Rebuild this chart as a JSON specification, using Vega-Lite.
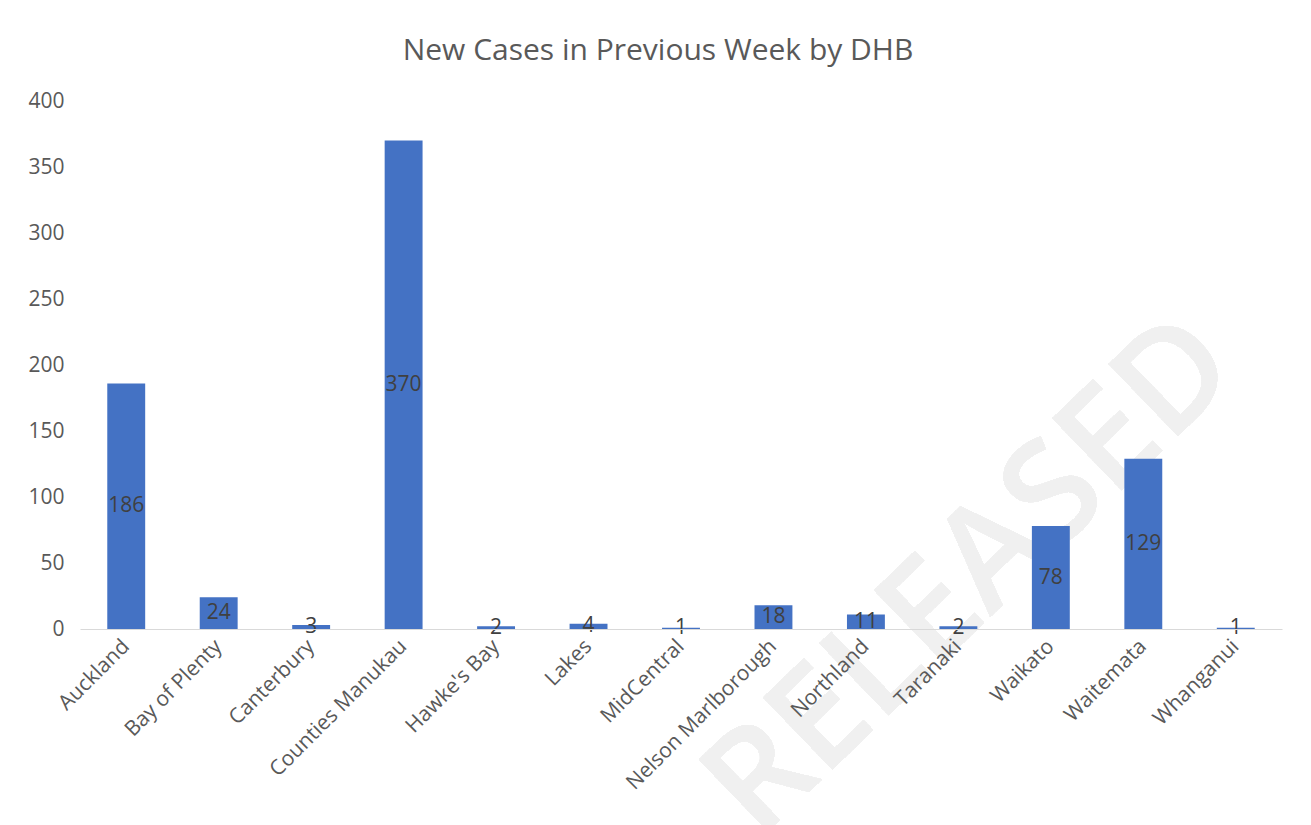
{
  "$schema": "https://vega.github.io/schema/vega-lite/v6.json",
  "width": 1202,
  "height": 528,
  "autosize": {"type": "none"},
  "padding": {"left": 80, "top": 101, "right": 29, "bottom": 196},
  "background": "white",
  "title": {
    "text": "New Cases in Previous Week by DHB",
    "font": "Open Sans",
    "fontSize": 30,
    "fontWeight": "normal",
    "color": "#595959",
    "anchor": "middle",
    "offset": 24,
    "dx": -23
  },
  "data": {
    "values": [
      {"dhb": "Auckland", "cases": 186},
      {"dhb": "Bay of Plenty", "cases": 24},
      {"dhb": "Canterbury", "cases": 3},
      {"dhb": "Counties Manukau", "cases": 370},
      {"dhb": "Hawke's Bay", "cases": 2},
      {"dhb": "Lakes", "cases": 4},
      {"dhb": "MidCentral", "cases": 1},
      {"dhb": "Nelson Marlborough", "cases": 18},
      {"dhb": "Northland", "cases": 11},
      {"dhb": "Taranaki", "cases": 2},
      {"dhb": "Waikato", "cases": 78},
      {"dhb": "Waitemata", "cases": 129},
      {"dhb": "Whanganui", "cases": 1}
    ]
  },
  "layer": [
    {
      "mark": {"type": "text", "text": "RELEASED", "font": "Open Sans", "fontSize": 140, "fontWeight": 600, "color": "#f0f0f0", "angle": -44, "align": "center", "baseline": "middle", "dx": 18},
      "encoding": {
        "x": {"datum": "Taranaki", "type": "nominal"},
        "y": {"datum": 30, "type": "quantitative", "scale": {"domain": [0, 400]}, "axis": null}
      }
    },
    {
      "mark": {"type": "bar", "color": "#4472C4"},
      "encoding": {
        "x": {
          "field": "dhb",
          "type": "nominal",
          "scale": {"paddingInner": 0.59, "paddingOuter": 0.295},
          "axis": {
            "title": null,
            "zindex": 1,
            "labelAngle": -45,
            "labelAlign": "right",
            "labelBaseline": "middle",
            "labelFont": "Open Sans",
            "labelFontSize": 21,
            "labelColor": "#595959",
            "labelPadding": 14,
            "labelLimit": 0,
            "ticks": false,
            "domainColor": "#d9d9d9",
            "domainWidth": 1,
            "grid": false
          }
        },
        "y": {
          "field": "cases",
          "type": "quantitative",
          "scale": {"domain": [0, 400]},
          "axis": {
            "title": null,
            "values": [0, 50, 100, 150, 200, 250, 300, 350, 400],
            "labelFont": "Open Sans",
            "labelFontSize": 21,
            "labelColor": "#595959",
            "labelPadding": 16,
            "ticks": false,
            "domain": false,
            "gridColor": "#d9d9d9",
            "gridWidth": 1
          }
        }
      }
    },
    {
      "mark": {"type": "text", "font": "Open Sans", "fontSize": 21, "color": "#404040", "baseline": "middle", "align": "center"},
      "encoding": {
        "x": {"field": "dhb", "type": "nominal"},
        "y": {"field": "cases", "type": "quantitative", "scale": {"domain": [0, 800]}, "axis": null},
        "text": {"field": "cases", "type": "quantitative"}
      }
    }
  ],
  "resolve": {"scale": {"y": "independent"}},
  "config": {"view": {"stroke": null}}
}
